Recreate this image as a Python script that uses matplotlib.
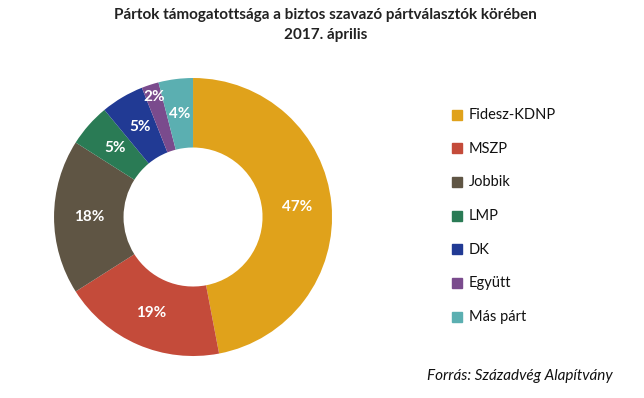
import numpy as np
import matplotlib.pyplot as plt
from matplotlib.patches import Rectangle

plt.rcParams['font.family'] = ['Lato', 'DejaVu Sans']

# Pártok támogatottsága, 2017. április
parties = ['Fidesz-KDNP', 'MSZP', 'Jobbik', 'LMP', 'DK', 'Együtt', 'Más párt']
shares = [47, 19, 18, 5, 5, 2, 4]
colors = ['#E0A21B', '#C44B3A', '#5F5544', '#2A7B55', '#213A94', '#7A4B8D', '#5BAFB1']

fig = plt.figure(figsize=(6.44, 3.98), dpi=100)

ax = fig.add_axes([0.0839, 0.1055, 0.4317, 0.6985])
wedges, texts, autotexts = ax.pie(
    shares, colors=colors, startangle=90, counterclock=False,
    radius=1.0, wedgeprops=dict(width=0.5, linewidth=0),
    autopct=lambda p: f'{p:.0f}%', pctdistance=0.75,
    textprops=dict(color='white', fontsize=11, fontweight='bold'))

# the small "Együtt" label sits further out in the original
w = wedges[5]
ang = np.deg2rad((w.theta1 + w.theta2) / 2)
autotexts[5].set_position((0.91 * np.cos(ang), 0.91 * np.sin(ang)))

ax.set_xlim(-1, 1)
ax.set_ylim(-1, 1)
ax.set_aspect('equal')
ax.axis('off')

fig.text(0.505, 0.962, 'Pártok támogatottsága a biztos szavazó pártválasztók körében',
         ha='center', va='center', fontsize=11, fontweight='bold', color='#222222')
fig.text(0.505, 0.912, '2017. április',
         ha='center', va='center', fontsize=11, fontweight='bold', color='#222222')

# legend drawn by hand
y0 = 115
step = 33.7
for i, (name, c) in enumerate(zip(parties, colors)):
    y = 1 - (y0 + i * step) / 398
    fig.patches.append(Rectangle((452 / 644, y - 4.5 / 398), 10 / 644, 10 / 398,
                                 transform=fig.transFigure, color=c))
    fig.text(469 / 644, y, name, ha='left', va='center', fontsize=10.5, color='#111111')

fig.text(613 / 644, 1 - 376 / 398, 'Forrás: Századvég Alapítvány',
         ha='right', va='center', fontsize=11, style='italic', color='#111111')

fig.savefig('out.png', dpi=100)
